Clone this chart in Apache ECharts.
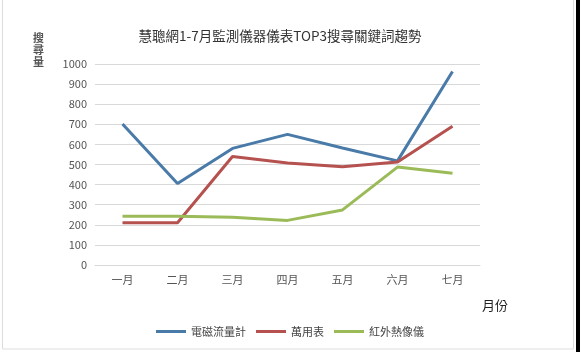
<!DOCTYPE html>
<html><head><meta charset="utf-8">
<script src="https://cdn.jsdelivr.net/npm/echarts@6/dist/echarts.min.js"></script>
<style>html,body{margin:0;padding:0;background:#fff}#c{width:580px;height:352px}</style>
</head><body><div id="c"></div>
<script>
const categories = ['一月','二月','三月','四月','五月','六月','七月'];
const seriesNames = ['電磁流量計','萬用表','紅外熱像儀'];
const flowMeter = [702, 405, 580, 650, 582, 518, 963];
const multimeter = [210, 210, 540, 507, 489, 513, 690];
const thermalImager = [243, 243, 237, 222, 274, 487, 456];
const yTicks = {min:0, max:1000, interval:100};
const colors = ['#4a7ba8','#b5524f','#9bbb59'];
const font = '"Noto Sans CJK TC","Noto Sans CJK SC",sans-serif';

const chart = echarts.init(document.getElementById('c'), null, {renderer:'canvas'});
chart.setOption({
  backgroundColor:'#fff',
  animation:false,
  title:[
    {text:'慧聰網1-7月監測儀器儀表TOP3搜尋關鍵詞趨勢', left:275, top:24, textAlign:'center',
     textStyle:{fontFamily:font, fontSize:13.5, fontWeight:'normal', color:'#333'}},
    {text:'搜\n尋\n量', left:28, top:27,
     textStyle:{fontFamily:font, fontSize:11, fontWeight:'bold', color:'#555', lineHeight:12}},
    {text:'月份', left:477, top:294,
     textStyle:{fontFamily:font, fontSize:13, fontWeight:'normal', color:'#222'}}
  ],
  graphic:[
    {type:'rect', shape:{x:576, y:0, width:4, height:352}, style:{fill:'#000'}},
    {type:'rect', shape:{x:2.5, y:-1, width:571, height:350}, style:{fill:'none', stroke:'#ddd', lineWidth:1}}
  ],
  legend:{
    bottom:10, left:'center',
    itemWidth:30, itemHeight:3, itemGap:10,
    icon:'rect',
    textStyle:{fontFamily:font, fontSize:11, color:'#444'},
    data:seriesNames
  },
  grid:{left:95, right:100, top:64, bottom:87},
  xAxis:{
    type:'category', data:categories, boundaryGap:true,
    axisLine:{lineStyle:{color:'#d9d9d9'}}, axisTick:{show:false},
    axisLabel:{fontFamily:font, fontSize:11, color:'#555', margin:9}
  },
  yAxis:{
    type:'value', min:yTicks.min, max:yTicks.max, interval:yTicks.interval,
    axisLine:{show:false}, axisTick:{show:false},
    splitLine:{lineStyle:{color:'#d9d9d9'}},
    axisLabel:{fontFamily:font, fontSize:11, color:'#555', margin:8, formatter:function(v){return String(v);}}
  },
  series:[
    {name:seriesNames[0], type:'line', data:flowMeter, symbol:'none', lineStyle:{width:3, color:colors[0]}, itemStyle:{color:colors[0]}},
    {name:seriesNames[1], type:'line', data:multimeter, symbol:'none', lineStyle:{width:3, color:colors[1]}, itemStyle:{color:colors[1]}},
    {name:seriesNames[2], type:'line', data:thermalImager, symbol:'none', lineStyle:{width:3, color:colors[2]}, itemStyle:{color:colors[2]}}
  ]
});
</script></body></html>
